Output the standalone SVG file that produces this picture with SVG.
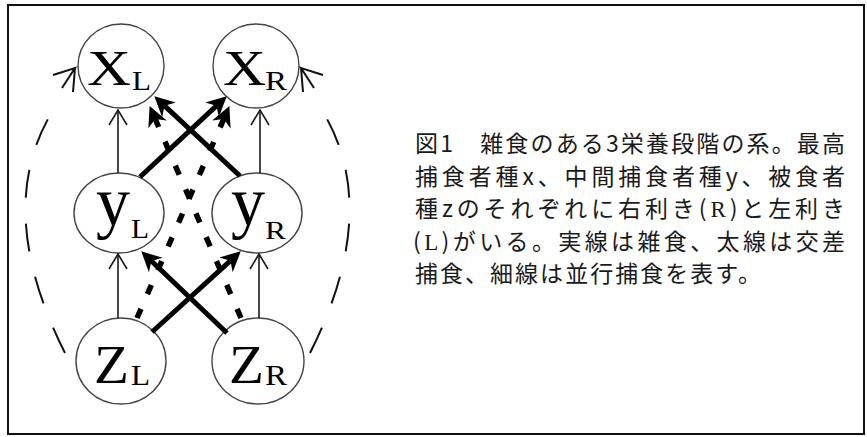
<svg xmlns="http://www.w3.org/2000/svg" width="867" height="437" viewBox="0 0 867 437">
<style>
.node ellipse{fill:#fff;stroke:#444;stroke-width:1.4}
.big{font-family:"Liberation Serif","Times New Roman",serif;fill:#000}
.thin{fill:none;stroke:#1a1a1a;stroke-width:1.6}
.thick{fill:none;stroke:#000;stroke-width:5}
.dash{stroke-dasharray:10 16;stroke-width:5.5}
.arc{fill:none;stroke:#111;stroke-width:2;stroke-dasharray:28 26}
.open{fill:none;stroke:#111;stroke-width:2}
.cap{font-family:"Noto Sans CJK JP","Noto Sans",sans-serif;font-size:23px;fill:#1a1a1a}
.ser{font-family:"Liberation Serif",serif}
</style>
<defs>
<marker id="ah" markerUnits="userSpaceOnUse" viewBox="-15 -15 30 30" markerWidth="30" markerHeight="30" refX="0" refY="0" orient="auto" overflow="visible">
<path d="M9,0 L-11,-10 L-5,0 L-11,10 Z" fill="#000"/>
</marker>
<marker id="ao" markerUnits="userSpaceOnUse" viewBox="-20 -12 24 24" markerWidth="24" markerHeight="24" refX="0" refY="0" orient="auto" overflow="visible">
<path d="M-15,-9 L0,0 L-15,9" fill="none" stroke="#1a1a1a" stroke-width="1.6"/>
</marker>
</defs>
<rect x="8" y="5" width="856" height="429" fill="#fff" stroke="#111" stroke-width="2"/>

<g id="xL" class="node"><ellipse cx="121" cy="66" rx="43" ry="42"/><text class="big" x="87" y="85" font-size="50" textLength="44" lengthAdjust="spacingAndGlyphs">X</text><text class="big" x="132" y="90" font-size="28" textLength="19" lengthAdjust="spacingAndGlyphs">L</text></g>
<g id="xR" class="node"><ellipse cx="256" cy="66" rx="43" ry="42"/><text class="big" x="223" y="85" font-size="50" textLength="43" lengthAdjust="spacingAndGlyphs">X</text><text class="big" x="265" y="90" font-size="28" textLength="22" lengthAdjust="spacingAndGlyphs">R</text></g>
<g id="yL" class="node"><ellipse cx="119" cy="213" rx="45" ry="40"/><text class="big" x="96" y="225" font-size="70" textLength="34" lengthAdjust="spacingAndGlyphs">y</text><text class="big" x="131" y="238" font-size="27" textLength="18" lengthAdjust="spacingAndGlyphs">L</text></g>
<g id="yR" class="node"><ellipse cx="257" cy="213" rx="45" ry="40"/><text class="big" x="231" y="225" font-size="70" textLength="34" lengthAdjust="spacingAndGlyphs">y</text><text class="big" x="265" y="239" font-size="26" textLength="21" lengthAdjust="spacingAndGlyphs">R</text></g>
<g id="zL" class="node"><ellipse cx="121" cy="361" rx="45" ry="43"/><text class="big" x="94" y="383" font-size="54" textLength="35" lengthAdjust="spacingAndGlyphs">Z</text><text class="big" x="131" y="385" font-size="30" textLength="19" lengthAdjust="spacingAndGlyphs">L</text></g>
<g id="zR" class="node"><ellipse cx="258" cy="361" rx="46" ry="43"/><text class="big" x="229" y="383" font-size="54" textLength="35" lengthAdjust="spacingAndGlyphs">Z</text><text class="big" x="265" y="385" font-size="30" textLength="22" lengthAdjust="spacingAndGlyphs">R</text></g>

<g id="connectors">
<path class="thin" d="M118,173 L118,110" marker-end="url(#ao)"/>
<path class="thin" d="M118,318 L118,254" marker-end="url(#ao)"/>
<path class="thin" d="M260,173 L260,110" marker-end="url(#ao)"/>
<path class="thin" d="M259,318 L259,254" marker-end="url(#ao)"/>
<path class="thick" d="M140,177 L220.1,102.4" marker-end="url(#ah)"/>
<path class="thick" d="M240,176 L160.9,102.4" marker-end="url(#ah)"/>
<path class="thick" d="M152,332 L234.1,257.4" marker-end="url(#ah)"/>
<path class="thick" d="M227,333 L147.8,257.5" marker-end="url(#ah)"/>
<path class="thick dash" d="M137,318 L225.8,114.3" marker-end="url(#ah)"/>
<path class="thick dash" d="M241,318 L153.2,114.3" marker-end="url(#ah)"/>
<path class="arc" d="M65,353 Q-7,210 52,112"/>
<path class="open" d="M53,75 L75,68 L62,88 M73,92 L75,68"/>
<path class="arc" d="M310,353 Q382,210 323,112"/>
<path class="open" d="M323,75 L301,68 L314,88 M303,92 L301,68"/>
</g>

<g id="caption">
<text class="cap" x="415" y="152" textLength="430" lengthAdjust="spacing">図1　雑食のある3栄養段階の系。最高</text>
<text class="cap" x="415" y="185" textLength="430" lengthAdjust="spacing">捕食者種x、中間捕食者種y、被食者</text>
<text class="cap" x="415" y="217" textLength="430" lengthAdjust="spacing">種zのそれぞれに右利き(<tspan class="ser">R</tspan>)と左利き</text>
<text class="cap" x="413" y="250" textLength="432" lengthAdjust="spacing">(<tspan class="ser">L</tspan>)がいる。実線は雑食、太線は交差</text>
<text class="cap" x="415" y="282" textLength="346" lengthAdjust="spacing">捕食、細線は並行捕食を表す。</text>
</g>
</svg>
